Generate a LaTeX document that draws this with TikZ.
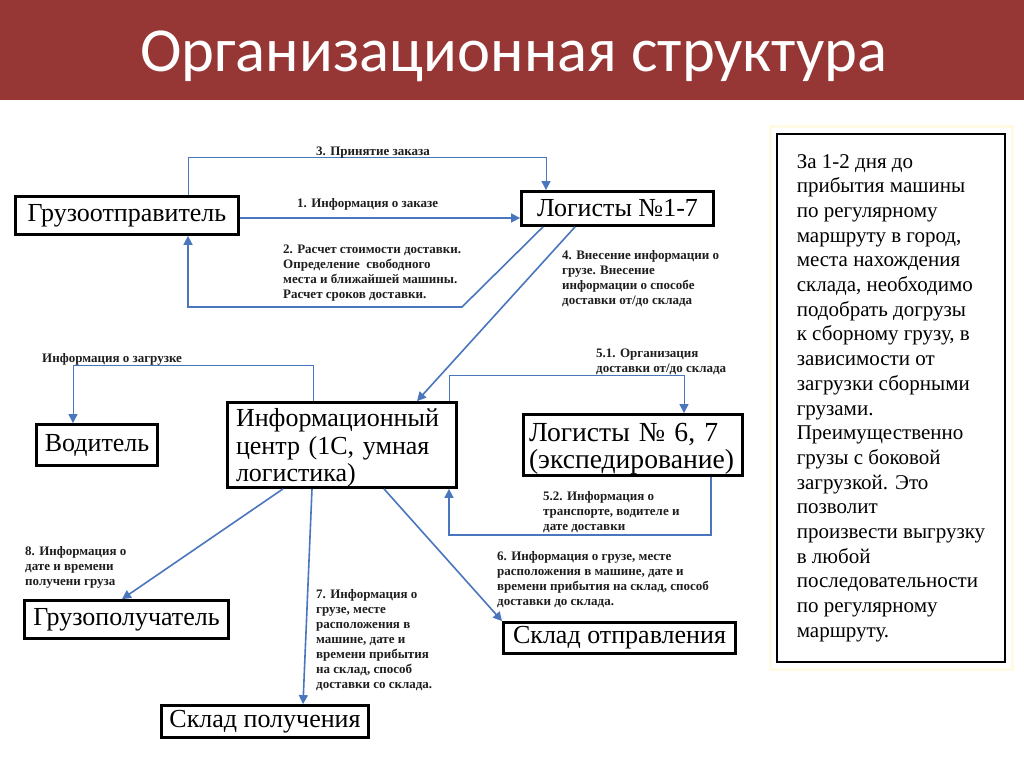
\documentclass[tikz,border=0pt]{standalone}
\usepackage{fontspec}
\setmainfont{Liberation Serif}
\newfontfamily\titlefont{Carlito}
\usetikzlibrary{arrows.meta,calc}
\definecolor{titlered}{RGB}{151,55,53}
\definecolor{linkblue}{RGB}{74,118,190}
\definecolor{paleframe}{RGB}{255,250,228}
\definecolor{lbltext}{RGB}{30,30,30}
\begin{document}
\begin{tikzpicture}[x=1pt,y=-1pt,
  box/.style={draw=black,line width=2.8pt,inner sep=0pt,font=\fontsize{26}{28}\selectfont},
  conn/.style={draw=linkblue,line width=1.6pt},
  thinconn/.style={draw=linkblue,line width=1pt},
  arr/.style={conn,-{Triangle[length=9pt,width=9pt]}},
  thinarr/.style={thinconn,-{Triangle[length=9pt,width=9pt]}},
  lbl/.style={inner sep=0pt,text=lbltext,font=\bfseries\fontsize{13}{15}\selectfont,align=left,anchor=north west},
]
\useasboundingbox (0,0) rectangle (1024,767);
\fill[white] (0,0) rectangle (1024,767);
\fill[titlered] (0,0) rectangle (1024,100);
\node[anchor=base west, inner sep=0pt, text=white, font=\titlefont\fontsize{62.6}{62.6}\selectfont] (title) at (140,72) {Организационная структура};

% boxes
\node[box,minimum width=223pt,minimum height=38pt] (gr) at (127,215.5) {Грузоотправитель};
\node[box,minimum width=192pt,minimum height=34pt] (l17) at (617.5,208.5) {Логисты №1-7};
\node[box,minimum width=229pt,minimum height=85pt] (info) at (342,445) {};
\node[inner sep=0pt,align=left,text width=212pt,font=\fontsize{26}{27.5}\selectfont] (infotext) at (342,448) {Информационный\\центр (1С, умная\\логистика)};
\node[box,minimum width=121pt,minimum height=41pt] (vod) at (97,445) {Водитель};
\node[box,minimum width=219pt,minimum height=61pt,align=left,text width=208pt,font=\fontsize{27.6}{27}\selectfont] (l67) at (633,445) {\rule{0pt}{25pt}Логисты № 6, 7\\(экспедирование)};
\node[box,minimum width=204pt,minimum height=38pt] (gp) at (126.5,619.5) {Грузополучатель};
\node[box,minimum width=207pt,minimum height=32pt] (sp) at (265,721.5) {Склад получения};
\node[box,minimum width=232pt,minimum height=31pt] (so) at (619.5,638) {Склад отправления};

% note box
\draw[paleframe,line width=3pt] (770,127) rectangle (1012,669);
\node[draw=black,line width=2.8pt,minimum width=228pt,minimum height=528pt,inner sep=0pt,align=left,font=\fontsize{21}{24.7}\selectfont] (note) at (891,398) {За 1-2 дня до\\прибытия машины\\по регулярному\\маршруту в город,\\места нахождения\\склада, необходимо\\подобрать догрузы\\к сборному грузу, в\\зависимости от\\загрузки сборными\\грузами.\\Преимущественно\\грузы с боковой\\загрузкой. Это\\позволит\\произвести выгрузку\\в любой\\последовательности\\по регулярному\\маршруту.};

% connectors
\draw[thinarr] (188,0 |- gr.north) -- (188,158) -- (546,158) -- (546,0 |- l17.north);
\draw[arr] (gr.east |- 0,218) -- (l17.west |- 0,218);
\draw[arr] (543,0 |- l17.south) -- (462,307) -- (188,307) -- (188,0 |- gr.south);
\draw[arr] (575,0 |- l17.south) -- (417,0 |- info.north);
\draw[thinarr] (313,0 |- info.north) -- (313,365) -- (73,365) -- (73,0 |- vod.north);
\draw[thinarr] (449,0 |- info.north) -- (449,375) -- (684,375) -- (684,0 |- l67.north);
\draw[arr] (711,0 |- l67.south) -- (711,535) -- (449,535) -- (449,0 |- info.south);
\draw[arr] (283,0 |- info.south) -- (122,0 |- gp.north);
\draw[arr] (312,0 |- info.south) -- (303,0 |- sp.north);
\draw[arr] (384,0 |- info.south) -- (so.north west);

% labels
\node[lbl,anchor=base] (t3) at (373,156) {3. Принятие заказа};
\node[lbl,anchor=base west] (t1) at (297,208) {1. Информация о заказе};
\node[lbl] (t2) at (283,245) {2. Расчет стоимости доставки.\\Определение\ \ свободного\\места и ближайшей машины.\\Расчет сроков доставки.};
\node[lbl] (t4) at (562,250) {4. Внесение информации о\\грузе. Внесение\\информации о способе\\доставки от/до склада};
\node[lbl,anchor=base west] (tz) at (42,362) {Информация о загрузке};
\node[lbl] (t51) at (596,349) {5.1. Организация\\доставки от/до склада};
\node[lbl] (t52) at (543,491) {5.2. Информация о\\транспорте, водителе и\\дате доставки};
\node[lbl] (t8) at (25,546) {8. Информация о\\дате и времени\\получени груза};
\node[lbl] (t7) at (316,589) {7. Информация о\\грузе, месте\\расположения в\\машине, дате и\\времени прибытия\\на склад, способ\\доставки со склада.};
\node[lbl] (t6) at (497,551) {6. Информация о грузе, месте\\расположения в машине, дате и\\времени прибытия на склад, способ\\доставки до склада.};
\end{tikzpicture}
\end{document}
